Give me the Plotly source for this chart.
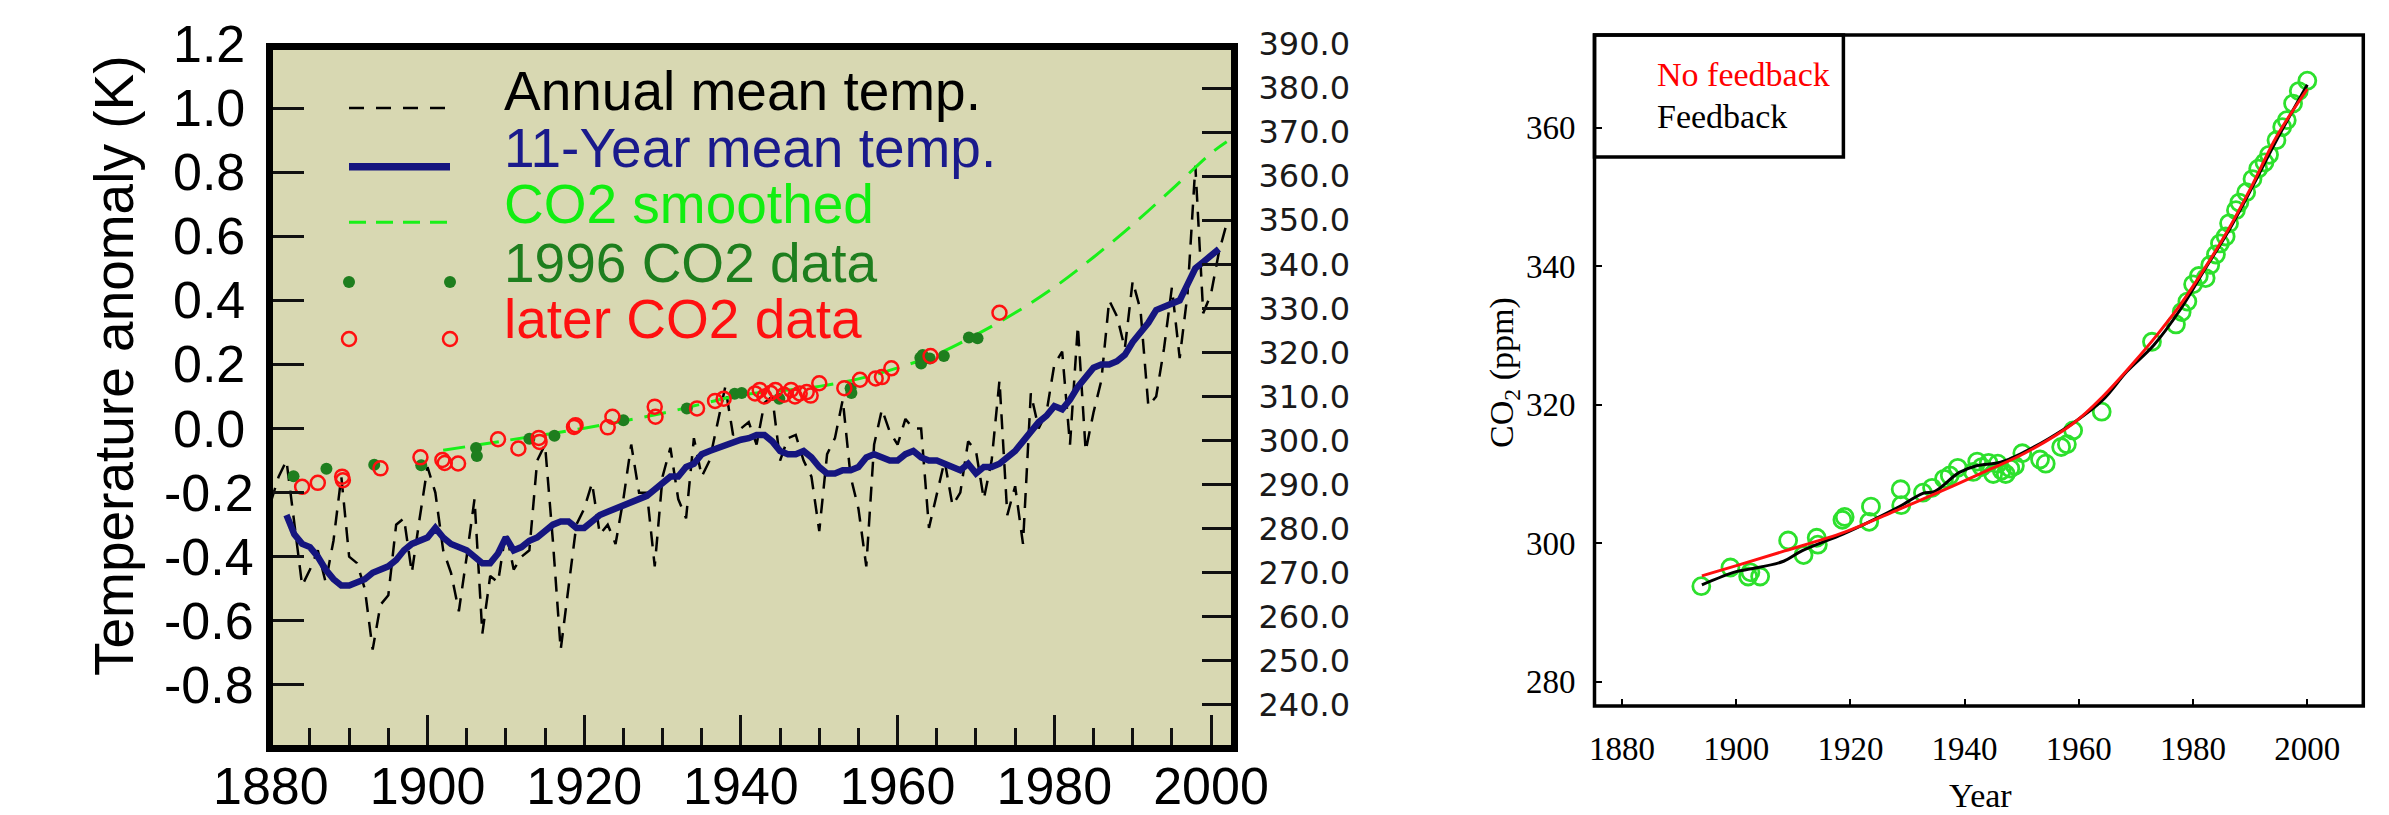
import plotly.graph_objects as go

W, H = 2389, 815

# ---------------- data ----------------
annual_years = list(range(1880, 2003))
annual_temp = [
    -0.23, -0.15, -0.10, -0.30, -0.49, -0.44, -0.38, -0.48, -0.35, -0.15,
    -0.40, -0.42, -0.50, -0.69, -0.55, -0.52, -0.30, -0.28, -0.45, -0.28,
    -0.12, -0.20, -0.38, -0.45, -0.57, -0.40, -0.22, -0.64, -0.46, -0.48,
    -0.32, -0.44, -0.40, -0.38, -0.10, -0.05, -0.35, -0.69, -0.50, -0.30,
    -0.25, -0.17, -0.33, -0.30, -0.36, -0.22, -0.05, -0.20, -0.20, -0.43,
    -0.15, -0.06, -0.22, -0.28, -0.03, -0.15, -0.10, 0.02, 0.13, -0.02,
    0.00, 0.02, -0.05, 0.08, 0.10, -0.10, -0.03, -0.02, -0.10, -0.15,
    -0.32, -0.08, -0.03, 0.09, -0.15, -0.25, -0.43, -0.05, 0.06, -0.01,
    -0.05, 0.03, 0.00, 0.00, -0.31, -0.20, -0.10, -0.24, -0.20, -0.04,
    -0.07, -0.22, -0.10, 0.15, -0.27, -0.18, -0.36, 0.11, 0.00, 0.05,
    0.20, 0.24, -0.05, 0.32, -0.07, 0.05, 0.15, 0.40, 0.35, 0.25,
    0.46, 0.37, 0.07, 0.10, 0.25, 0.44, 0.22, 0.42, 0.82, 0.36,
    0.42, 0.55, 0.64,
]

mean11_years = list(range(1882, 2002))
mean11_temp = [
    -0.27, -0.33, -0.36, -0.37, -0.40, -0.44, -0.47, -0.49, -0.49, -0.48,
    -0.47, -0.45, -0.44, -0.43, -0.41, -0.38, -0.36, -0.35, -0.34, -0.31,
    -0.34, -0.36, -0.37, -0.38, -0.40, -0.42, -0.42, -0.39, -0.34, -0.38,
    -0.37, -0.35, -0.34, -0.32, -0.30, -0.29, -0.29, -0.31, -0.31, -0.29,
    -0.27, -0.26, -0.25, -0.24, -0.23, -0.22, -0.21, -0.19, -0.17, -0.15,
    -0.15, -0.12, -0.11, -0.08, -0.07, -0.06, -0.05, -0.04, -0.035, -0.03,
    -0.02, -0.02, -0.04, -0.07, -0.08, -0.08, -0.07, -0.09, -0.12, -0.14,
    -0.14, -0.13, -0.13, -0.12, -0.09, -0.08, -0.09, -0.10, -0.10, -0.08,
    -0.07, -0.09, -0.10, -0.10, -0.11, -0.12, -0.13, -0.11, -0.14, -0.12,
    -0.12, -0.11, -0.09, -0.07, -0.04, -0.01, 0.02, 0.04, 0.07, 0.06,
    0.09, 0.13, 0.16, 0.19, 0.20, 0.20, 0.21, 0.23, 0.27, 0.30,
    0.33, 0.37, 0.38, 0.39, 0.40, 0.45, 0.50, 0.52, 0.54, 0.56,
]

co2_smooth_years = [1902, 1910, 1920, 1930, 1940, 1945, 1950, 1955, 1960,
                    1965, 1970, 1975, 1980, 1985, 1990, 1995, 2000, 2002]
co2_smooth_ppm = [297.8, 300.0, 302.8, 306.2, 310.3, 311.3, 312.3, 314.0, 316.5,
                  319.6, 324.0, 329.0, 334.8, 341.6, 349.0, 357.0, 365.2, 367.8]

co2_1996_years = [1882.9, 1887.1, 1893.2, 1899.2, 1906.2, 1906.3, 1913.0, 1916.2,
                  1925.0, 1933.1, 1939.2, 1940.1, 1944.9, 1954.0, 1954.1,
                  1962.9, 1963.0, 1963.2, 1964.1, 1965.9, 1969.1, 1970.2]
co2_1996_ppm = [291.9, 293.6, 294.5, 294.4, 298.3, 296.5, 300.4, 301.1,
                304.6, 307.3, 310.6, 310.8, 309.5, 311.9, 310.8,
                318.8, 317.5, 319.4, 318.6, 319.2, 323.4, 323.2]

co2_later_years = [1884.0, 1886.0, 1889.1, 1889.2, 1894.0, 1899.1, 1901.9, 1902.2,
                   1903.9, 1909.0, 1911.6, 1914.2, 1914.3, 1918.7, 1918.9,
                   1923.0, 1923.6, 1929.0, 1929.1, 1934.4, 1936.7, 1937.8,
                   1941.8, 1942.4, 1943.0, 1943.8, 1944.4, 1945.5, 1946.4,
                   1946.9, 1947.5, 1948.4, 1948.9, 1950.0, 1953.2, 1955.2,
                   1957.2, 1958.0, 1959.2, 1964.2, 1973.0]
co2_later_ppm = [289.5, 290.4, 291.8, 291.0, 293.7, 296.2, 295.6, 294.9,
                 294.8, 300.3, 298.2, 300.6, 299.7, 303.1, 303.5,
                 303.0, 305.4, 307.7, 305.4, 307.3, 309.0, 309.5,
                 310.7, 311.5, 310.0, 310.8, 311.5, 310.4, 311.5,
                 310.0, 310.7, 311.0, 310.2, 313.0, 311.9, 313.8,
                 314.1, 314.4, 316.4, 319.2, 329.0]

# right panel
obs_years = [1893.9, 1899.0, 1902.1, 1902.5, 1904.2, 1909.1, 1911.8, 1914.1, 1914.3,
             1918.6, 1919.0, 1923.3, 1923.6, 1928.8, 1928.9, 1932.7, 1934.3, 1936.4,
             1937.4, 1938.8, 1941.5, 1942.2, 1943.0, 1944.2, 1945.0, 1945.8, 1946.5,
             1947.2, 1948.0, 1948.8, 1950.1, 1953.2, 1954.2, 1956.9, 1957.9, 1959.0,
             1964.0, 1972.8, 1977.0, 1978.0, 1979.0, 1980.0, 1981.0, 1982.2, 1983.0,
             1984.0, 1984.7, 1985.7, 1986.3, 1987.5, 1988.1, 1989.3, 1990.4, 1991.4,
             1992.5, 1993.3, 1994.6, 1995.6, 1996.4, 1997.5, 1998.5, 2000.0]
obs_ppm = [293.8, 296.5, 295.2, 295.8, 295.2, 300.4, 298.3, 300.8, 299.8,
           303.4, 303.8, 303.1, 305.3, 307.8, 305.5, 307.3, 308.0, 309.3,
           309.8, 310.9, 310.3, 311.8, 311.0, 311.6, 310.0, 311.5, 310.5,
           310.0, 310.8, 311.2, 313.0, 312.1, 311.5, 313.9, 314.3, 316.3,
           319.0, 329.1, 331.6, 333.4, 334.9, 337.4, 338.6, 338.3, 340.2,
           341.7, 343.3, 344.3, 346.2, 348.1, 349.2, 350.7, 352.6, 354.1,
           355.0, 356.1, 358.2, 360.1, 361.1, 363.5, 365.3, 366.8]

fb_years = [1894, 1900, 1902.6, 1908.3, 1911.5, 1918.6, 1923.3, 1928.6, 1932.7, 1934.8,
            1939.0, 1942.1, 1946.3, 1950.5, 1954.7, 1958.9, 1964.2, 1968.4, 1973.1,
            1977.8, 1982.0, 1986.2, 1990.4, 1994.6, 2000.0]
fb_ppm = [294.0, 295.9, 296.3, 297.4, 298.9, 301.3, 303.1, 305.3, 307.2, 307.5,
          310.2, 311.2, 311.7, 313.2, 315.1, 317.3, 320.7, 324.8, 328.6,
          333.8, 339.5, 345.1, 351.5, 358.2, 366.2]

nofb_years = [1894, 1900.2, 1908.5, 1919.0, 1928.5, 1938.0, 1944.2, 1950.5, 1959.0,
              1964.2, 1969.5, 1973.7, 1977.9, 1982.1, 1986.3, 1990.4, 1994.6, 2000.0]
nofb_ppm = [295.3, 296.8, 298.9, 301.6, 304.9, 308.3, 310.6, 313.0, 317.3,
            321.2, 326.0, 330.1, 334.6, 339.8, 345.5, 351.8, 358.7, 365.6]

temp_ticks = [-0.8, -0.6, -0.4, -0.2, 0.0, 0.2, 0.4, 0.6, 0.8, 1.0, 1.2]
temp_tick_labels = ["-0.8", "-0.6", "-0.4", "-0.2", "0.0", "0.2", "0.4", "0.6", "0.8", "1.0", "1.2"]
co2_ticks_left = [240, 250, 260, 270, 280, 290, 300, 310, 320, 330, 340, 350, 360, 370, 380, 390]
year_ticks = [1880, 1900, 1920, 1940, 1960, 1980, 2000]
co2_ticks_right = [280, 300, 320, 340, 360]

legend_left = ["Annual mean temp.", "11-Year mean temp.", "CO2 smoothed",
               "1996 CO2 data", "later CO2 data"]
legend_right = ["No feedback", "Feedback"]

# ---------------- colours ----------------
KHAKI = "#D8D8B2"
NAVY = "#15157F"
LIME = "#19F019"
DKGREEN = "#1E7E1E"
RED = "#FF1010"
OBSGREEN = "#2DE02D"


def px(x):
    return x / W


def py(y):
    return 1 - y / H


fig = go.Figure()

# left panel
fig.add_trace(go.Scatter(x=annual_years, y=annual_temp, mode="lines",
                         line=dict(color="black", width=2.5, dash="15px,10px"),
                         xaxis="x", yaxis="y", showlegend=False))
fig.add_trace(go.Scatter(x=mean11_years, y=mean11_temp, mode="lines",
                         line=dict(color=NAVY, width=6.5),
                         xaxis="x", yaxis="y", showlegend=False))
fig.add_trace(go.Scatter(x=co2_smooth_years, y=co2_smooth_ppm, mode="lines",
                         line=dict(color=LIME, width=3, dash="22px,12px", shape="spline"),
                         xaxis="x", yaxis="y2", showlegend=False))
fig.add_trace(go.Scatter(x=co2_1996_years, y=co2_1996_ppm, mode="markers",
                         marker=dict(color=DKGREEN, size=12, line=dict(width=0)),
                         xaxis="x", yaxis="y2", showlegend=False))
fig.add_trace(go.Scatter(x=co2_later_years, y=co2_later_ppm, mode="markers",
                         marker=dict(symbol="circle-open", color=RED, size=14,
                                     line=dict(width=2.5, color=RED)),
                         xaxis="x", yaxis="y2", showlegend=False))

# right panel
fig.add_trace(go.Scatter(x=obs_years, y=obs_ppm, mode="markers",
                         marker=dict(symbol="circle-open", color=OBSGREEN, size=17,
                                     line=dict(width=2.8, color=OBSGREEN)),
                         xaxis="x3", yaxis="y3", showlegend=False))
fig.add_trace(go.Scatter(x=fb_years, y=fb_ppm, mode="lines",
                         line=dict(color="black", width=3, shape="spline"),
                         xaxis="x3", yaxis="y3", showlegend=False))
fig.add_trace(go.Scatter(x=nofb_years, y=nofb_ppm, mode="lines",
                         line=dict(color=RED, width=3, shape="spline"),
                         xaxis="x3", yaxis="y3", showlegend=False))

sans = "Liberation Sans, Arial, sans-serif"
serif = "Liberation Serif, Times New Roman, serif"

fig.update_layout(
    width=W, height=H, margin=dict(l=0, r=0, t=0, b=0, pad=0, autoexpand=False),
    paper_bgcolor="white", plot_bgcolor="rgba(0,0,0,0)",
    xaxis=dict(domain=[px(270.8), px(1232.5)], range=[1880, 2002.74], anchor="y",
               showgrid=False, zeroline=False, showline=False, automargin=False,
               tickmode="array", tickvals=year_ticks, ticks="inside", ticklen=34,
               tickwidth=2.5, tickcolor="#111",
               minor=dict(dtick=5, tick0=1880, ticks="inside", ticklen=21,
                          tickwidth=2.5, tickcolor="#111", showgrid=False),
               tickfont=dict(family=sans, size=52, color="black"),
               ticklabelstandoff=2),
    yaxis=dict(domain=[py(749), py(44)], range=[-1.0, 1.2], anchor="x",
               showgrid=False, zeroline=False, showline=False, automargin=False,
               tickmode="array", tickvals=temp_ticks, ticks="inside", ticklen=33,
               tickwidth=2.5, tickcolor="#111", showticklabels=False),
    yaxis2=dict(overlaying="y", side="right", anchor="x", range=[230, 390],
                showgrid=False, zeroline=False, showline=False, automargin=False,
                tickmode="array", tickvals=co2_ticks_left, tickformat=".1f",
                ticks="inside", ticklen=31, tickwidth=2.5, tickcolor="#111",
                tickfont=dict(family="DejaVu Sans, sans-serif", size=32, color="#1a1a1a"),
                ticklabelstandoff=25),
    xaxis3=dict(domain=[px(1594.5), px(2363.3)], range=[1875.2, 2009.8], anchor="y3",
                showgrid=False, zeroline=False, showline=False, automargin=False,
                tickmode="array", tickvals=year_ticks, ticks="inside", ticklen=7,
                tickwidth=2, tickcolor="black",
                tickfont=dict(family=serif, size=33, color="black"),
                ticklabelstandoff=20),
    yaxis3=dict(domain=[py(706), py(35)], range=[276.5, 373.4], anchor="x3",
                showgrid=False, zeroline=False, showline=False, automargin=False,
                tickmode="array", tickvals=co2_ticks_right, ticks="inside", ticklen=7,
                tickwidth=2, tickcolor="black",
                tickfont=dict(family=serif, size=33, color="black"),
                ticklabelstandoff=18),
)

shapes = []
# left background and frame
shapes.append(dict(type="rect", xref="paper", yref="paper", layer="below",
                   x0=px(269.5), x1=px(1234.5), y0=py(748.5), y1=py(46.5),
                   fillcolor=KHAKI, line=dict(width=0)))
shapes.append(dict(type="rect", xref="paper", yref="paper", layer="above",
                   x0=px(269.5), x1=px(1234.5), y0=py(748.5), y1=py(46.5),
                   fillcolor="rgba(0,0,0,0)", line=dict(color="black", width=7)))
# right frame and legend box
shapes.append(dict(type="rect", xref="paper", yref="paper", layer="above",
                   x0=px(1594.5), x1=px(2363.3), y0=py(706), y1=py(35),
                   fillcolor="rgba(0,0,0,0)", line=dict(color="black", width=3.5)))
shapes.append(dict(type="rect", xref="paper", yref="paper", layer="above",
                   x0=px(1594.5), x1=px(1843.4), y0=py(157), y1=py(35),
                   fillcolor="rgba(0,0,0,0)", line=dict(color="black", width=3.5)))

# left legend samples
shapes.append(dict(type="line", xref="paper", yref="paper",
                   x0=px(349), x1=px(450), y0=py(108), y1=py(108),
                   line=dict(color="black", width=2.5, dash="15px,12px")))
shapes.append(dict(type="line", xref="paper", yref="paper",
                   x0=px(349), x1=px(450), y0=py(166.7), y1=py(166.7),
                   line=dict(color=NAVY, width=7.5)))
shapes.append(dict(type="line", xref="paper", yref="paper",
                   x0=px(349), x1=px(450), y0=py(222.3), y1=py(222.3),
                   line=dict(color=LIME, width=3, dash="17px,10px")))
for cx in (349, 450):
    shapes.append(dict(type="circle", xref="paper", yref="paper",
                       x0=px(cx - 6), x1=px(cx + 6), y0=py(282 + 6), y1=py(282 - 6),
                       fillcolor=DKGREEN, line=dict(width=0)))
    shapes.append(dict(type="circle", xref="paper", yref="paper",
                       x0=px(cx - 7), x1=px(cx + 7), y0=py(339 + 7), y1=py(339 - 7),
                       fillcolor="rgba(0,0,0,0)", line=dict(color=RED, width=2.5)))
fig.update_layout(shapes=shapes)

ann = []
# left y tick labels (centred)
for v, t in zip(temp_ticks, temp_tick_labels):
    ann.append(dict(text=t, xref="paper", yref="y", x=px(209), y=v,
                    xanchor="center", yanchor="middle", showarrow=False,
                    font=dict(family=sans, size=52, color="black")))
# left y title
ann.append(dict(text="Temperature anomaly (K)", xref="paper", yref="paper",
                x=px(114), y=py(366), textangle=-90, showarrow=False,
                xanchor="center", yanchor="middle",
                font=dict(family=sans, size=55, color="black")))
# left legend text
leg_colors = ["black", "#1A1A8C", "#11EE11", "#1E7E1E", "#FF1010"]
leg_mid = [91, 147.7, 204.3, 262.7, 319.3]
for t, c, ym in zip(legend_left, leg_colors, leg_mid):
    ann.append(dict(text=t, xref="paper", yref="paper", x=px(502), y=py(ym),
                    xanchor="left", yanchor="middle", showarrow=False,
                    font=dict(family=sans, size=55, color=c)))
# right legend text
for t, c, ym in zip(legend_right, ["#FF0000", "black"], [74, 116.8]):
    ann.append(dict(text=t, xref="paper", yref="paper", x=px(1655), y=py(ym),
                    xanchor="left", yanchor="middle", showarrow=False,
                    font=dict(family=serif, size=34, color=c)))
# right axis titles
ann.append(dict(text="CO<sub>2</sub> (ppm)", xref="paper", yref="paper",
                x=px(1504), y=py(373), textangle=-90, showarrow=False,
                xanchor="center", yanchor="middle",
                font=dict(family=serif, size=34, color="black")))
ann.append(dict(text="Year", xref="paper", yref="paper",
                x=px(1980), y=py(795), showarrow=False,
                xanchor="center", yanchor="middle",
                font=dict(family=serif, size=34, color="black")))
fig.update_layout(annotations=ann)

fig.write_html("out.html", config={"displayModeBar": False},
               post_script="document.body.style.margin='0';document.body.style.overflow='hidden';")
